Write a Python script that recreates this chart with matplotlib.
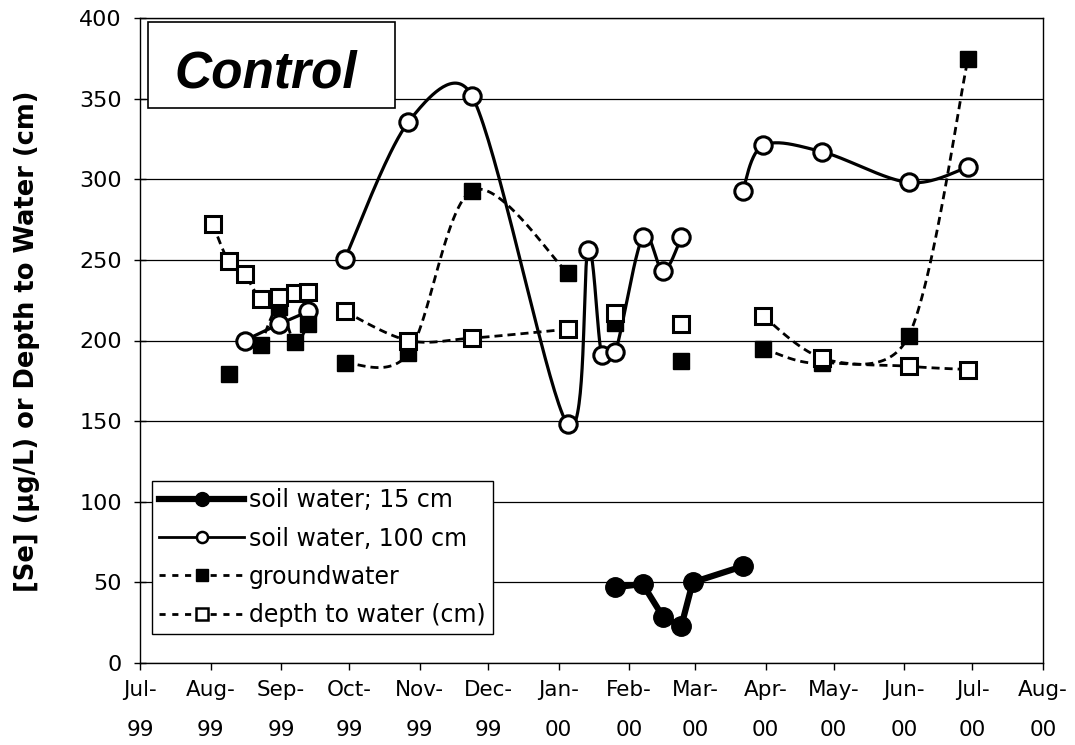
import numpy as np
import matplotlib
matplotlib.use("Agg")
import matplotlib.pyplot as plt
import matplotlib.dates as mdates
from matplotlib.lines import Line2D
from matplotlib.patches import Rectangle

plt.rcParams['font.family'] = ['DejaVu Sans']

# ---------------- data (None marks a gap in a line) ----------------
sw15_dates = ['2000-01-26', '2000-02-07', '2000-02-16', '2000-02-24', '2000-02-29', '2000-03-22']
sw15_vals = [47, 49, 28.5, 23, 50, 60]

sw100_dates = ['1999-08-16', '1999-08-31', '1999-09-13', None,
               '1999-09-29', '1999-10-27', '1999-11-24', '2000-01-05', '2000-01-14',
               '2000-01-20', '2000-01-26', '2000-02-07', '2000-02-16', '2000-02-24', None,
               '2000-03-22', '2000-03-31', '2000-04-26', '2000-06-03', '2000-06-29']
sw100_vals = [200, 210, 218, None,
              250.5, 335.5, 351.6, 148, 256,
              191, 193, 264, 243, 264, None,
              293, 321, 317, 298, 307.5]

gw_dates = ['1999-08-09', None,
            '1999-08-23', '1999-08-31', '1999-09-07', '1999-09-13', None,
            '1999-09-29', '1999-10-27', '1999-11-24', '2000-01-05', None,
            '2000-01-26', None,
            '2000-02-24', None,
            '2000-03-31', '2000-04-26', '2000-06-03', '2000-06-29']
gw_vals = [179, None,
           197, 221, 199, 210, None,
           186, 192, 293, 242, None,
           211, None,
           187, None,
           195, 186, 203, 374.5]

depth_dates = ['1999-08-02', '1999-08-09', '1999-08-16', '1999-08-23', '1999-08-31', '1999-09-07',
               '1999-09-13', None,
               '1999-09-29', '1999-10-27', '1999-11-24', '2000-01-05', None,
               '2000-01-26', None,
               '2000-02-24', None,
               '2000-03-31', '2000-04-26', '2000-06-03', '2000-06-29']
depth_vals = [272, 249, 241, 226, 227, 229.5,
              230, None,
              218, 200, 201.5, 207, None,
              217, None,
              210, None,
              215, 189, 184, 182]

labels = ['soil water; 15 cm', 'soil water, 100 cm', 'groundwater', 'depth to water (cm)']
x_start, x_end = '1999-07-01', '2000-08-01'
y_ticks = [0, 50, 100, 150, 200, 250, 300, 350, 400]
title_text = 'Control'
ylabel_text = '[Se] (µg/L) or Depth to Water (cm)'

W, H = 1075, 745
AX_L, AX_R, AX_T, AX_B = 140, 1043, 18, 663


def to_num(d):
    return mdates.date2num(np.datetime64(d, 'D'))


X0, X1 = to_num(x_start), to_num(x_end)
SX = (AX_R - AX_L) / (X1 - X0)          # px per day
SY = (AX_B - AX_T) / (y_ticks[-1] - y_ticks[0])  # px per unit


def segments(dates, vals):
    segs, cx, cy = [], [], []
    for d, v in zip(dates, vals):
        if d is None or v is None:
            if cx:
                segs.append((np.array(cx), np.array(cy, float)))
            cx, cy = [], []
        else:
            cx.append(to_num(d))
            cy.append(v)
    if cx:
        segs.append((np.array(cx), np.array(cy, float)))
    return segs


def smooth(xs, ys, n=40):
    """Excel-like smoothed line: Bezier segments, control points capped at half the segment."""
    if len(xs) < 2:
        return xs, ys
    pts = np.column_stack([xs * SX, ys * SY])
    P = np.vstack([pts[0], pts, pts[-1]])
    out = []
    t = np.linspace(0, 1, n)[:, None]
    for i in range(1, len(P) - 2):
        p0, p1, p2, p3 = P[i - 1], P[i], P[i + 1], P[i + 2]
        d02 = np.linalg.norm(p2 - p0)
        d12 = np.linalg.norm(p2 - p1)
        d13 = np.linalg.norm(p3 - p1)
        f0 = 1 / 6 if d02 / 6 < d12 / 2 else (d12 / 2) / d02
        f1 = 1 / 6 if d13 / 6 < d12 / 2 else (d12 / 2) / d13
        c1 = p1 + f0 * (p2 - p0)
        c2 = p2 - f1 * (p3 - p1)
        seg = (1 - t) ** 3 * p1 + 3 * (1 - t) ** 2 * t * c1 + 3 * (1 - t) * t ** 2 * c2 + t ** 3 * p2
        out.append(seg if i == 1 else seg[1:])
    o = np.vstack(out)
    return o[:, 0] / SX, o[:, 1] / SY


fig = plt.figure(figsize=(W / 100, H / 100), dpi=100)
ax = fig.add_axes([AX_L / W, 1 - AX_B / H, (AX_R - AX_L) / W, (AX_B - AX_T) / H])

dash = (2.9, 1.8)

# soil water 15 cm (thick straight line, filled circles)
for sx, sy in segments(sw15_dates, sw15_vals):
    ax.plot(sx, sy, color='black', lw=4.5, solid_joinstyle='round', zorder=3)
    ax.plot(sx, sy, ls='none', marker='o', ms=14, mfc='black', mec='black', zorder=4)

# soil water 100 cm (smoothed, open circles)
for sx, sy in segments(sw100_dates, sw100_vals):
    cx, cy = smooth(sx, sy)
    ax.plot(cx, cy, color='black', lw=2.3, zorder=3)
    ax.plot(sx, sy, ls='none', marker='o', ms=12.5, mfc='white', mec='black', mew=2.2, zorder=4)

# groundwater (smoothed dashed, filled squares)
for sx, sy in segments(gw_dates, gw_vals):
    cx, cy = smooth(sx, sy)
    ax.plot(cx, cy, color='black', lw=2.0, ls=(0, dash), dash_capstyle='butt', zorder=3)
    ax.plot(sx, sy, ls='none', marker='s', ms=11.5, mfc='black', mec='black', zorder=4)

# depth to water (smoothed dashed, open squares)
for sx, sy in segments(depth_dates, depth_vals):
    cx, cy = smooth(sx, sy)
    ax.plot(cx, cy, color='black', lw=2.0, ls=(0, dash), dash_capstyle='butt', zorder=3)
    ax.plot(sx, sy, ls='none', marker='s', ms=11.5, mfc='white', mec='black', mew=2.2, zorder=4)

ax.set_xlim(X0, X1)
ax.set_ylim(y_ticks[0], y_ticks[-1])
ax.set_yticks(y_ticks)
ax.xaxis.set_major_locator(mdates.MonthLocator())
ax.xaxis.set_major_formatter(mdates.DateFormatter('%b-\n%y'))
ax.grid(axis='y', color='black', lw=0.9, zorder=1)
ax.set_axisbelow(True)
for s in ax.spines.values():
    s.set_color('black')
    s.set_linewidth(1.0)
ax.tick_params(axis='x', direction='out', length=5, width=1, labelsize=15.5, pad=7)
ax.tick_params(axis='y', direction='inout', length=8, width=1, labelsize=16, pad=9)

fig.text(27 / W, 1 - 341 / H, ylabel_text, rotation=90, ha='center', va='center',
         fontsize=18.5, fontweight='bold')

# title box
ax.add_patch(Rectangle((8 / 903, (663 - 108) / 645), (395 - 148) / 903, 86 / 645,
                       transform=ax.transAxes, fc='white', ec='black', lw=1.2, zorder=5))
ax.text((266 - 140) / 903, (663 - 87) / 645, title_text, transform=ax.transAxes,
        ha='center', va='baseline', fontsize=37, fontweight='bold', fontstyle='italic',
        family='Liberation Sans', zorder=6)

handles = [
    Line2D([], [], color='black', lw=4.5, marker='o', ms=10, mfc='black', mec='black'),
    Line2D([], [], color='black', lw=2.0, marker='o', ms=8, mfc='white', mec='black', mew=1.8),
    Line2D([], [], color='black', lw=2.0, ls=(0, (2.2, 2.4)), marker='s', ms=8, mfc='black', mec='black'),
    Line2D([], [], color='black', lw=2.0, ls=(0, (2.2, 2.4)), marker='s', ms=8, mfc='white', mec='black', mew=1.8),
]
leg = ax.legend(handles, labels, loc='lower left', bbox_to_anchor=(12 / 903, 29 / 645),
                borderaxespad=0, fontsize=17, handlelength=3.6, handletextpad=0.2,
                labelspacing=0.6, borderpad=0.3, fancybox=False, framealpha=1,
                edgecolor='black')
leg.get_frame().set_linewidth(1.0)
leg.set_zorder(6)

fig.canvas.draw()
for lab in ax.get_xticklabels():
    lab.set_linespacing(2.25)

fig.savefig('out.png', dpi=100)
